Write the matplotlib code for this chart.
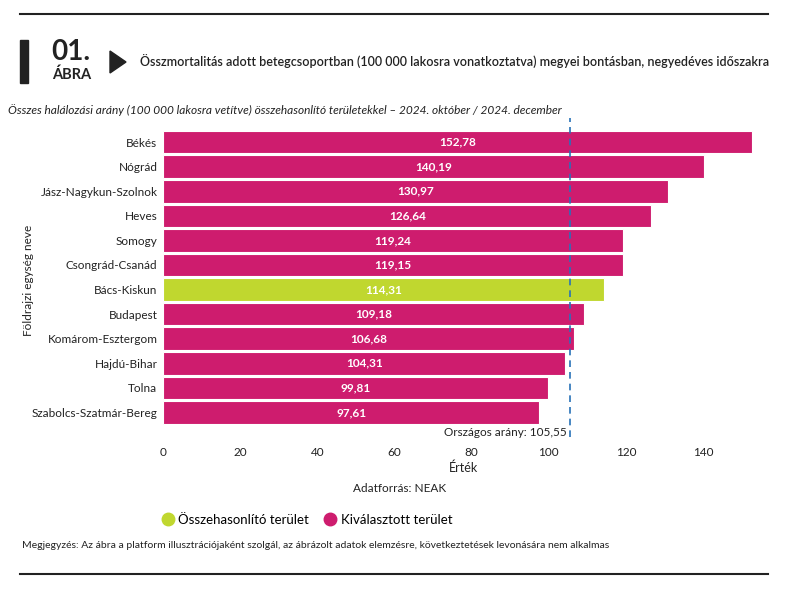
import matplotlib
matplotlib.use("Agg")
import matplotlib.pyplot as plt
from matplotlib.lines import Line2D
from matplotlib.patches import Rectangle, Polygon

plt.rcParams['font.family'] = ['Lato', 'DejaVu Sans']

# data
counties = ["Békés", "Nógrád", "Jász-Nagykun-Szolnok", "Heves", "Somogy",
            "Csongrád-Csanád", "Bács-Kiskun", "Budapest", "Komárom-Esztergom",
            "Hajdú-Bihar", "Tolna", "Szabolcs-Szatmár-Bereg"]
values = [152.78, 140.19, 130.97, 126.64, 119.24, 119.15, 114.31,
          109.18, 106.68, 104.31, 99.81, 97.61]
is_comparison = [False, False, False, False, False, False, True,
                 False, False, False, False, False]
national_rate = 105.55
x_ticks = [0, 20, 40, 60, 80, 100, 120, 140]

magenta = "#CE1C6E"
lime = "#C0D72F"
line_blue = "#2872B8"
text_col = "#222222"

W, H = 800, 592
fig = plt.figure(figsize=(8, 5.92), dpi=100)

# axes placed in pixel terms
ax_left, ax_top, ax_bottom = 163, 118, 437
ax_w = 160 * (540 / 140)
ax_h = ax_bottom - ax_top
ax = fig.add_axes([ax_left / W, 1 - ax_bottom / H, ax_w / W, ax_h / H])

colors = [lime if c else magenta for c in is_comparison]
ypos = list(range(len(counties)))
ax.barh(ypos, values, height=0.92, color=colors, edgecolor="white", linewidth=0.8)
for y, v in zip(ypos, values):
    ax.text(v / 2, y, f"{v:.2f}".replace(".", ","), ha="center", va="center",
            color="white", fontsize=8.5, fontweight="bold")

ax.axvline(national_rate, color=line_blue, linestyle=(0, (4, 3)), linewidth=1.2)
ax.text(national_rate - 1, 11.82, f"Országos arány: {national_rate:.2f}".replace(".", ","),
        ha="right", va="center", fontsize=8.5, color=text_col)

ax.set_xlim(0, 160)
ax.set_ylim(12.0, -0.98)
ax.set_yticks(ypos)
ax.set_yticklabels(counties, fontsize=8.5, color=text_col)
ax.set_xticks(x_ticks)
ax.set_xticklabels([str(t) for t in x_ticks], fontsize=8.5, color=text_col)
ax.tick_params(axis="both", length=0)
ax.tick_params(axis="x", pad=7)
ax.tick_params(axis="y", pad=4)
for s in ax.spines.values():
    s.set_visible(False)
ax.set_xlabel("Érték", fontsize=9, color=text_col)
ax.xaxis.set_label_coords((463 - ax_left) / ax_w, -(461 - ax_bottom) / ax_h)
ax.set_ylabel("Földrajzi egység neve", fontsize=8.5, color=text_col)
ax.yaxis.set_label_coords(-(ax_left - 34) / ax_w, (ax_bottom - 280) / ax_h)

# header and frame
fig.add_artist(Line2D([20 / W, 768 / W], [1 - 14 / H, 1 - 14 / H], color="#222222", lw=1.5))
fig.add_artist(Line2D([20 / W, 768 / W], [1 - 574 / H, 1 - 574 / H], color="#222222", lw=1.5))
fig.add_artist(Rectangle((20 / W, 1 - 83 / H), 8 / W, 43 / H, color="#222222"))
fig.text(51 / W, 1 - 52 / H, "01.", fontsize=20, fontweight="bold", color="#222222",
         ha="left", va="center")
fig.text(52 / W, 1 - 75 / H, "ÁBRA", fontsize=10.5, fontweight="bold", color="#222222",
         ha="left", va="center")
fig.add_artist(Polygon([[110 / W, 1 - 51 / H], [110 / W, 1 - 73 / H], [126 / W, 1 - 62 / H]],
                       closed=True, color="#222222"))
fig.text(140 / W, 1 - 62 / H,
         "Összmortalitás adott betegcsoportban (100 000 lakosra vonatkoztatva) megyei bontásban, negyedéves időszakra",
         fontsize=9, fontweight="semibold", color="#222222", ha="left", va="center")
fig.text(8 / W, 1 - 110 / H,
         "Összes halálozási arány (100 000 lakosra vetítve) összehasonlító területekkel – 2024. október / 2024. december",
         fontsize=8.6, style="italic", color=text_col, ha="left", va="center")

fig.text(400 / W, 1 - 488 / H, "Adatforrás: NEAK", fontsize=8.5, color=text_col,
         ha="center", va="center")

handles = [Line2D([], [], marker="o", linestyle="", markersize=9, color=lime),
           Line2D([], [], marker="o", linestyle="", markersize=9, color=magenta)]
fig.legend(handles, ["Összehasonlító terület", "Kiválasztott terület"], ncol=2,
           loc="center left", bbox_to_anchor=(148 / W, 1 - 520 / H), frameon=False,
           fontsize=9.5, handletextpad=0.2, columnspacing=1.0, handlelength=1.2)

fig.text(22 / W, 1 - 546 / H,
         "Megjegyzés: Az ábra a platform illusztrációjaként szolgál, az ábrázolt adatok elemzésre, következtetések levonására nem alkalmas",
         fontsize=7.5, color=text_col, ha="left", va="center")

fig.savefig("out.png", dpi=100, facecolor="white")
